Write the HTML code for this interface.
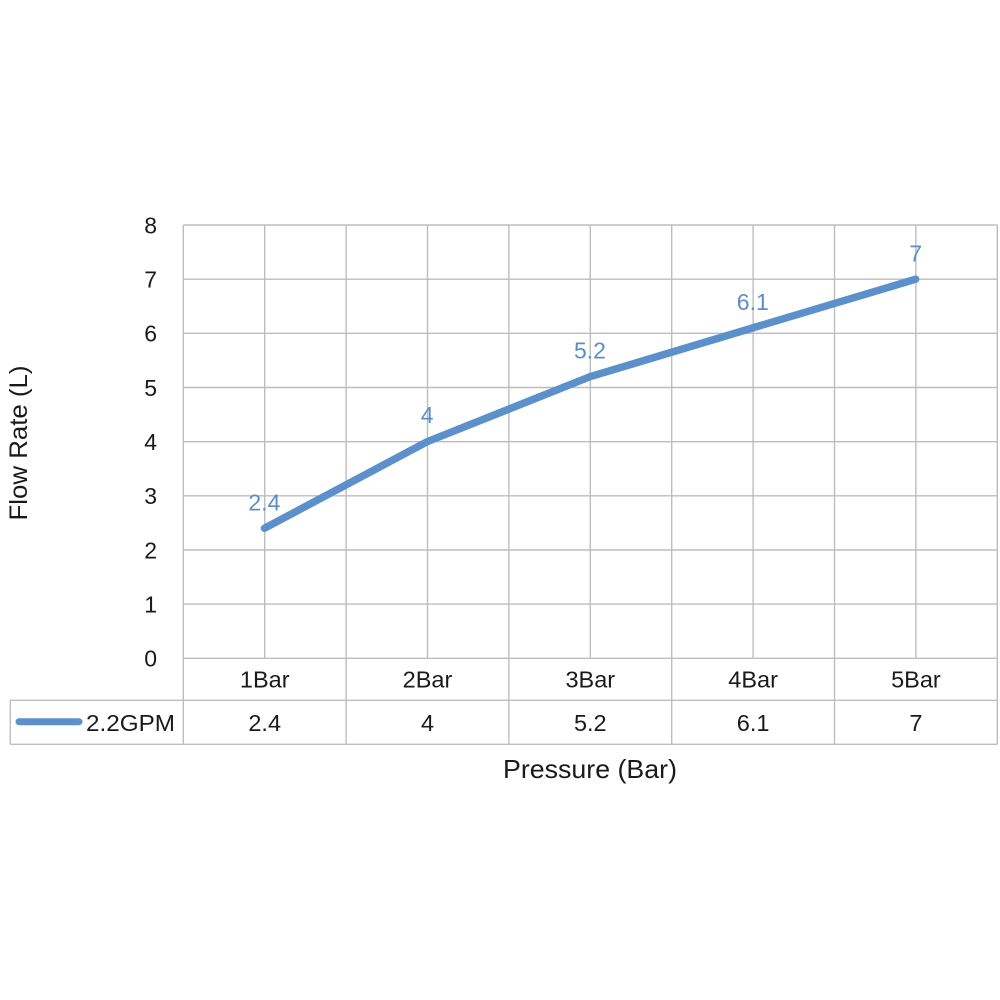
<!DOCTYPE html>
<html>
<head>
<meta charset="utf-8">
<style>
  html, body { margin: 0; padding: 0; background: #ffffff; }
  svg { display: block; }
  text { font-family: "Liberation Sans", "DejaVu Sans", sans-serif; }
</style>
</head>
<body>
<svg width="1000" height="1000" viewBox="0 0 1000 1000" xmlns="http://www.w3.org/2000/svg">
  <rect x="0" y="0" width="1000" height="1000" fill="#ffffff"/>

  <!-- horizontal gridlines -->
  <g stroke="#bdbdbd" stroke-width="1.4" fill="none">
    <line x1="183.3" y1="225" x2="997.3" y2="225"/>
    <line x1="183.3" y1="279.2" x2="997.3" y2="279.2"/>
    <line x1="183.3" y1="333.3" x2="997.3" y2="333.3"/>
    <line x1="183.3" y1="387.5" x2="997.3" y2="387.5"/>
    <line x1="183.3" y1="441.7" x2="997.3" y2="441.7"/>
    <line x1="183.3" y1="495.8" x2="997.3" y2="495.8"/>
    <line x1="183.3" y1="550" x2="997.3" y2="550"/>
    <line x1="183.3" y1="604.1" x2="997.3" y2="604.1"/>
    <line x1="183.3" y1="658.3" x2="997.3" y2="658.3"/>
    <!-- vertical gridlines in plot -->
    <line x1="183.3" y1="225" x2="183.3" y2="658.3"/>
    <line x1="264.7" y1="225" x2="264.7" y2="658.3"/>
    <line x1="346.1" y1="225" x2="346.1" y2="658.3"/>
    <line x1="427.5" y1="225" x2="427.5" y2="658.3"/>
    <line x1="508.9" y1="225" x2="508.9" y2="658.3"/>
    <line x1="590.3" y1="225" x2="590.3" y2="658.3"/>
    <line x1="671.7" y1="225" x2="671.7" y2="658.3"/>
    <line x1="753.1" y1="225" x2="753.1" y2="658.3"/>
    <line x1="834.5" y1="225" x2="834.5" y2="658.3"/>
    <line x1="915.9" y1="225" x2="915.9" y2="658.3"/>
    <line x1="997.3" y1="225" x2="997.3" y2="658.3"/>
    <!-- data table -->
    <line x1="10.3" y1="700.3" x2="997.3" y2="700.3"/>
    <line x1="10.3" y1="744.3" x2="997.3" y2="744.3"/>
    <line x1="10.3" y1="700.3" x2="10.3" y2="744.3"/>
    <line x1="183.3" y1="658.3" x2="183.3" y2="744.3"/>
    <line x1="346.1" y1="658.3" x2="346.1" y2="744.3"/>
    <line x1="508.9" y1="658.3" x2="508.9" y2="744.3"/>
    <line x1="671.7" y1="658.3" x2="671.7" y2="744.3"/>
    <line x1="834.5" y1="658.3" x2="834.5" y2="744.3"/>
    <line x1="997.3" y1="658.3" x2="997.3" y2="744.3"/>
  </g>

  <!-- y tick labels -->
  <g font-size="23" fill="#1a1a1a" text-anchor="end">
    <text x="157" y="233.3">8</text>
    <text x="157" y="287.5">7</text>
    <text x="157" y="341.6">6</text>
    <text x="157" y="395.8">5</text>
    <text x="157" y="450">4</text>
    <text x="157" y="504.1">3</text>
    <text x="157" y="558.3">2</text>
    <text x="157" y="612.4">1</text>
    <text x="157" y="666.6">0</text>
  </g>

  <!-- y axis title -->
  <text x="0" y="0" font-size="25" fill="#1a1a1a" text-anchor="middle" transform="translate(27,443) rotate(-90)" textLength="155" lengthAdjust="spacingAndGlyphs">Flow Rate (L)</text>

  <!-- data line -->
  <polyline points="264.4,528.3 427.2,441.7 590,376.7 752.8,327.9 915.6,279.2" fill="none" stroke="#5b90cb" stroke-width="7.5" stroke-linecap="round" stroke-linejoin="round"/>

  <!-- data labels -->
  <g font-size="23" fill="#5b8ec6" text-anchor="middle">
    <text x="264.4" y="510.3">2.4</text>
    <text x="427.2" y="423.2">4</text>
    <text x="590" y="358.7">5.2</text>
    <text x="752.8" y="310">6.1</text>
    <text x="915.6" y="261.5">7</text>
  </g>

  <!-- table row 1: categories -->
  <g font-size="23.5" fill="#1a1a1a" text-anchor="middle">
    <text x="264.7" y="687.5">1Bar</text>
    <text x="427.5" y="687.5">2Bar</text>
    <text x="590.3" y="687.5">3Bar</text>
    <text x="753.1" y="687.5">4Bar</text>
    <text x="915.9" y="687.5">5Bar</text>
  </g>

  <!-- table row 2: values -->
  <line x1="19" y1="721.7" x2="79" y2="721.7" stroke="#5b90cb" stroke-width="7" stroke-linecap="round"/>
  <text x="175" y="731" font-size="23.5" fill="#1a1a1a" text-anchor="end" textLength="89" lengthAdjust="spacingAndGlyphs">2.2GPM</text>
  <g font-size="23.5" fill="#1a1a1a" text-anchor="middle">
    <text x="264.7" y="731">2.4</text>
    <text x="427.5" y="731">4</text>
    <text x="590.3" y="731">5.2</text>
    <text x="753.1" y="731">6.1</text>
    <text x="915.9" y="731">7</text>
  </g>

  <!-- x axis title -->
  <text x="590" y="778" font-size="26" fill="#1a1a1a" text-anchor="middle" textLength="174" lengthAdjust="spacingAndGlyphs">Pressure (Bar)</text>
</svg>
</body>
</html>
